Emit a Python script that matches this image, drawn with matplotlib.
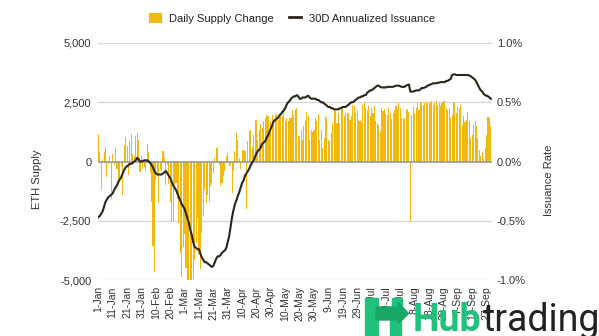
import numpy as np
import matplotlib
matplotlib.use('Agg')
import matplotlib.pyplot as plt
from matplotlib.patches import Patch, Polygon, Rectangle
from matplotlib.lines import Line2D

plt.rcParams['font.family'] = ['Liberation Sans', 'DejaVu Sans']

# Daily ETH supply change (1 Jan - 30 Sep)
daily_change = [
    1150, 400, -1200, 100, 400, 600, -650, -100, 250, -1600,
    330, -150, 620, -300, -1000, -850, -200, -1400, 700, 1050,
    650, -550, 850, 1150, 300, 250, 1070, 1200, 900, -450,
    250, -300, -250, -450, 750, 400, -500, -1700, -3550, -4650,
    -800, -550, -1750, -350, -400, 450, 150, -1000, -150, -950,
    -1700, -2550, -2530, -1050, -900, -1600, -2600, -3860, -4860, -3600,
    -3040, -4500, -5000, -5000, -5000, -5000, -4950, -4150, -3450, -2400,
    -3900, -4550, -3000, -2300, -1200, -1750, -1400, -1700, -1050, -900,
    -500, 150, 550, 600, -150, -1050, -900, -600, -400, 250,
    350, -250, -150, -1350, -400, 450, 1200, 900, 150, -300,
    500, 500, 450, -2000, 850, 1300, 1350, 600, 1100, 1750,
    1750, 900, 1350, 1600, 1400, 1700, 1850, 1960, 1900, 1350,
    1700, 1950, 1800, 1950, 2000, 1750, 1950, 2000, 1900, 2250,
    1700, 1850, 1690, 1830, 1830, 2190, 1970, 2190, 2260, 1060,
    1090, 1340, 920, 1500, 1690, 2090, 1900, 920, 1340, 1230,
    1340, 1830, 1690, 2000, 920, 1340, 560, 990, 1900, 1830,
    920, 850, 1200, 1620, 2190, 2110, 1620, 2040, 1620, 2260,
    2330, 1900, 2040, 2040, 2040, 1750, 1900, 2400, 2330, 2040,
    2190, 1760, 1690, 1620, 2400, 2470, 2260, 2190, 2330, 1900,
    2260, 2040, 2330, 1690, 1620, 1550, 1270, 2260, 2110, 2200,
    2000, 1970, 2260, 2040, 1800, 2040, 2190, 2330, 2210, 2470,
    2260, 1830, 1790, 1830, 2190, 2210, 2100, -2530, 1970, 2330,
    2040, 2260, 2510, 2190, 2500, 2470, 2400, 2450, 2500, 2470,
    2470, 2500, 2540, 2400, 2470, 2560, 2400, 2470, 2330, 2470,
    2560, 2540, 2260, 2190, 2260, 1830, 1970, 2500, 2470, 2040,
    2330, 2260, 2400, 1550, 1900, 1650, 1760, 2100, 1720, 990,
    1130, 1550, 1700, 1490, 990, 490, 240, 420, 100, 560,
    1130, 1880, 1850, 1480,
]

# 30D annualized issuance, in percent
issuance_pct = [
    -0.47, -0.46, -0.44, -0.42, -0.38, -0.34, -0.32, -0.30, -0.29, -0.28,
    -0.27, -0.24, -0.22, -0.20, -0.17, -0.15, -0.13, -0.10, -0.07, -0.05,
    -0.04, -0.03, -0.02, -0.02, -0.01, 0.00, 0.01, 0.03, 0.02, 0.00,
    0.00, 0.005, 0.01, 0.01, 0.01, 0.00, -0.01, -0.03, -0.05, -0.08,
    -0.10, -0.11, -0.11, -0.11, -0.11, -0.10, -0.09, -0.08, -0.10, -0.12,
    -0.14, -0.17, -0.20, -0.22, -0.24, -0.27, -0.30, -0.33, -0.36, -0.38,
    -0.40, -0.44, -0.48, -0.52, -0.58, -0.62, -0.68, -0.72, -0.73, -0.74,
    -0.74, -0.78, -0.81, -0.83, -0.85, -0.85, -0.86, -0.87, -0.88, -0.89,
    -0.88, -0.85, -0.82, -0.80, -0.80, -0.79, -0.77, -0.76, -0.75, -0.73,
    -0.68, -0.63, -0.55, -0.47, -0.41, -0.36, -0.33, -0.29, -0.26, -0.22,
    -0.18, -0.16, -0.12, -0.10, -0.08, -0.06, -0.03, -0.01, 0.01, 0.04,
    0.07, 0.09, 0.10, 0.12, 0.15, 0.16, 0.17, 0.20, 0.22, 0.25,
    0.28, 0.31, 0.34, 0.35, 0.36, 0.37, 0.39, 0.40, 0.42, 0.43,
    0.45, 0.48, 0.50, 0.51, 0.53, 0.54, 0.55, 0.55, 0.56, 0.55,
    0.53, 0.53, 0.54, 0.54, 0.54, 0.55, 0.555, 0.54, 0.53, 0.53,
    0.53, 0.53, 0.52, 0.52, 0.51, 0.50, 0.50, 0.49, 0.48, 0.47,
    0.46, 0.46, 0.45, 0.45, 0.44, 0.44, 0.44, 0.44, 0.45, 0.45,
    0.46, 0.46, 0.46, 0.47, 0.48, 0.49, 0.50, 0.50, 0.51, 0.52,
    0.53, 0.54, 0.54, 0.55, 0.55, 0.56, 0.56, 0.58, 0.59, 0.60,
    0.60, 0.61, 0.62, 0.63, 0.64, 0.64, 0.63, 0.625, 0.625, 0.625,
    0.625, 0.63, 0.63, 0.63, 0.63, 0.63, 0.635, 0.64, 0.64, 0.64,
    0.635, 0.63, 0.63, 0.63, 0.64, 0.645, 0.65, 0.59, 0.59, 0.59,
    0.595, 0.60, 0.60, 0.60, 0.61, 0.62, 0.62, 0.625, 0.63, 0.64,
    0.645, 0.65, 0.655, 0.66, 0.66, 0.66, 0.665, 0.665, 0.67, 0.67,
    0.67, 0.67, 0.68, 0.68, 0.69, 0.695, 0.73, 0.735, 0.735, 0.73,
    0.73, 0.73, 0.73, 0.73, 0.73, 0.73, 0.73, 0.73, 0.725, 0.72,
    0.71, 0.70, 0.69, 0.67, 0.645, 0.62, 0.60, 0.59, 0.57, 0.56,
    0.555, 0.55, 0.54, 0.53,
]

tick_labels = [
    '1-Jan', '11-Jan', '21-Jan', '31-Jan', '10-Feb', '20-Feb', '1-Mar',
    '11-Mar', '21-Mar', '31-Mar', '10-Apr', '20-Apr', '30-Apr', '10-May',
    '20-May', '30-May', '9-Jun', '19-Jun', '29-Jun', '9-Jul', '19-Jul',
    '29-Jul', '8-Aug', '18-Aug', '28-Aug', '7-Sep', '17-Sep', '27-Sep',
]
left_ticks = [5000, 2500, 0, -2500, -5000]
left_labels = ['5,000', '2,500', '0', '-2,500', '-5,000']
right_ticks = [1.0, 0.5, 0.0, -0.5, -1.0]
right_labels = ['1.0%', '0.5%', '0.0%', '-0.5%', '-1.0%']

BAR_COLOR = '#F0B90B'
LINE_COLOR = '#2b2618'
TEXT_COLOR = '#333333'

W, H = 599, 336
fig = plt.figure(figsize=(W / 100, H / 100), dpi=100)
ax = fig.add_axes([97.6 / W, 1 - 280 / H, (491.6 - 97.6) / W, (280 - 43) / H])

x = np.arange(len(daily_change))
for yv in left_ticks:
    if yv != 0:
        ax.axhline(yv, color='#d6d6d6', lw=0.9, zorder=1)
ax.bar(x, daily_change, width=0.75, color=BAR_COLOR, linewidth=0, zorder=2)
ax.axhline(0, color='#9a9a9a', lw=1.2, zorder=3)

ax.set_xlim(-0.5, len(x) - 0.5)
ax.set_ylim(-5000, 5000)
ax.set_yticks(left_ticks)
ax.set_yticklabels(left_labels)
ax.set_xticks(np.arange(len(tick_labels)) * 10)
ax.set_xticklabels(tick_labels, rotation=90)
ax.tick_params(axis='y', length=0, pad=4.5, labelsize=8, labelcolor=TEXT_COLOR)
ax.tick_params(axis='x', length=0, pad=4.5, labelsize=7.5, labelcolor=TEXT_COLOR)
for s in ax.spines.values():
    s.set_visible(False)

ax2 = ax.twinx()
ax2.plot(x, issuance_pct, color=LINE_COLOR, lw=1.5, zorder=4)
ax2.set_ylim(-1, 1)
ax2.set_yticks(right_ticks)
ax2.set_yticklabels(right_labels)
ax2.tick_params(axis='y', length=0, pad=3.8, labelsize=8, labelcolor=TEXT_COLOR)
for s in ax2.spines.values():
    s.set_visible(False)

fig.text(37.5 / W, 1 - 179 / H, 'ETH Supply', rotation=90, ha='center',
         va='center', fontsize=8, color=TEXT_COLOR)
fig.text(549 / W, 1 - 180 / H, 'Issuance Rate', rotation=90, ha='center',
         va='center', fontsize=8, color=TEXT_COLOR)

handles = [Patch(facecolor=BAR_COLOR, edgecolor='none'),
           Line2D([], [], color=LINE_COLOR, lw=2)]
fig.legend(handles, ['Daily Supply Change', '30D Annualized Issuance'],
           loc='center', bbox_to_anchor=(0.488, 0.946), ncol=2, frameon=False,
           fontsize=8, handlelength=1.1, handleheight=1.0, handletextpad=0.7,
           columnspacing=1.35, labelcolor='#222222')

# watermark logo
GREEN = '#22c17b'
def px(xp, yp):
    return (xp / W, 1 - yp / H)

for (x0, y0, x1, y1) in [(365, 298, 378, 337), (391.5, 298, 401.5, 307), (390, 320, 401.5, 337)]:
    fig.patches.append(Rectangle(px(x0, y1), (x1 - x0) / W, (y1 - y0) / H,
                                 transform=fig.transFigure, color=GREEN, zorder=5))
arrow = [px(376, 307), px(398, 307), px(398, 302.5), px(408.5, 313.5),
         px(398, 324), px(398, 320), px(376, 320)]
fig.patches.append(Polygon(arrow, closed=True, transform=fig.transFigure,
                           color='#1aa866', zorder=5))
fig.text(413 / W, 1 - 331 / H, 'Hub', fontsize=27, color=GREEN,
         family=['Roboto', 'DejaVu Sans'], weight='bold', va='baseline', zorder=6)
fig.text(483 / W, 1 - 331 / H, 'trading', fontsize=27, color='#222222',
         family=['Roboto', 'DejaVu Sans'], va='baseline', zorder=6)

fig.savefig('out.png', dpi=100)
